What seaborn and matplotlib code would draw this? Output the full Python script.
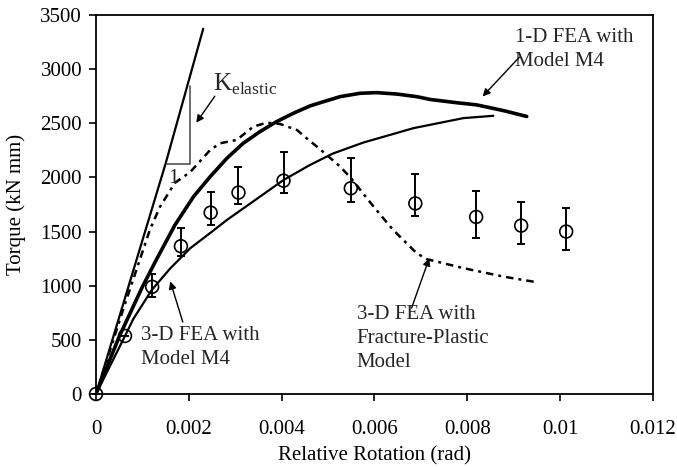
import matplotlib
matplotlib.use("Agg")
import matplotlib.pyplot as plt
import seaborn as sns
import pandas as pd

# ---- data ----
# Experimental data (circles with error bars)
exp_x = [0.0, 0.000625, 0.00121, 0.00183, 0.00247, 0.00307, 0.00404, 0.00549, 0.00688, 0.00819, 0.00916, 0.01013]
exp_y = [0, 536, 990, 1365, 1675, 1860, 1970, 1900, 1760, 1635, 1555, 1500]
exp_lo = [0, 0, 90, 95, 110, 110, 110, 125, 115, 190, 170, 170]
exp_hi = [0, 0, 120, 165, 190, 240, 265, 275, 270, 240, 215, 220]

# Elastic stiffness line
kel_x = [0.0, 0.0015, 0.00231]
kel_y = [0, 2128, 3373]

# 1-D FEA with Model M4 (thick solid)
fea1_x = [0.0, 0.0005, 0.001, 0.0013, 0.0017, 0.0021, 0.00246, 0.00282, 0.00317, 0.00353,
          0.00389, 0.00425, 0.00461, 0.00483, 0.00526, 0.00569, 0.00605, 0.00648, 0.00691,
          0.0072, 0.00777, 0.0082, 0.00842, 0.0088, 0.00928]
fea1_y = [0, 530, 990, 1240, 1560, 1822, 2007, 2177, 2315, 2422,
          2515, 2592, 2660, 2690, 2746, 2777, 2783, 2770, 2746,
          2720, 2690, 2670, 2650, 2615, 2563]

# 3-D FEA with Model M4 (thin solid)
fea3_x = [0.0, 0.000625, 0.0008, 0.0012, 0.0016, 0.00203, 0.0025, 0.00282, 0.00404, 0.00461,
          0.0051, 0.00576, 0.00684, 0.00792, 0.00856]
fea3_y = [0, 536, 690, 960, 1160, 1346, 1500, 1607, 1976, 2115,
          2220, 2322, 2455, 2548, 2569]

# 3-D FEA with Fracture-Plastic Model (dashed)
frac_x = [0.0, 0.0006, 0.00116, 0.00138, 0.0017, 0.00203, 0.00246, 0.00267, 0.00303, 0.00339,
          0.00368, 0.00397, 0.00433, 0.00454, 0.0048, 0.00526, 0.0055, 0.00598, 0.0064, 0.00691,
          0.00713, 0.00792, 0.00878, 0.0095]
frac_y = [0, 800, 1516, 1730, 1950, 2050, 2253, 2315, 2346, 2469,
          2506, 2493, 2438, 2361, 2270, 2100, 1990, 1731, 1516, 1300,
          1245, 1162, 1084, 1032]

x_ticks = [0, 0.002, 0.004, 0.006, 0.008, 0.010, 0.012]
x_ticklabels = ["0", "0.002", "0.004", "0.006", "0.008", "0.01", "0.012"]
y_ticks = [0, 500, 1000, 1500, 2000, 2500, 3000, 3500]

# ---- style ----
sns.set_theme(style="ticks")
plt.rcParams['font.family'] = ['Liberation Serif', 'DejaVu Serif']
plt.rcParams['mathtext.fontset'] = 'custom'
plt.rcParams['mathtext.rm'] = 'Liberation Serif'
FS = 15

fig = plt.figure(figsize=(6.77, 4.67), dpi=100)
ax = fig.add_axes([0.1418, 0.1563, 0.8227, 0.8116])

sns.lineplot(data=pd.DataFrame({"x": kel_x, "y": kel_y}), x="x", y="y", ax=ax,
             color="black", lw=1.6, sort=False, estimator=None)
sns.lineplot(data=pd.DataFrame({"x": fea1_x, "y": fea1_y}), x="x", y="y", ax=ax,
             color="black", lw=2.6, sort=False, estimator=None)
sns.lineplot(data=pd.DataFrame({"x": fea3_x, "y": fea3_y}), x="x", y="y", ax=ax,
             color="black", lw=1.6, sort=False, estimator=None)
sns.lineplot(data=pd.DataFrame({"x": frac_x, "y": frac_y}), x="x", y="y", ax=ax,
             color="black", lw=1.8, sort=False, estimator=None)
ax.lines[-1].set_linestyle((0, (3, 2, 1.2, 2)))

# experimental points
ax.errorbar(exp_x, exp_y, yerr=[exp_lo, exp_hi], fmt="none", ecolor="black",
            elinewidth=1.4, capsize=3, capthick=1.4, clip_on=False, zorder=4)
sns.scatterplot(x=exp_x, y=exp_y, ax=ax, marker="o", s=85, facecolor="none",
                edgecolor="black", linewidth=1.2, zorder=5, clip_on=False)

# stiffness triangle
ax.plot([0.0015, 0.00203, 0.00203], [2128, 2128, 2847], color="#444444", lw=1.1)
ax.text(0.00166, 1990, "1", fontsize=FS, ha="center", va="center")

# annotations
ax.text(0.00252, 2855, r"K$_{\mathrm{elastic}}$", fontsize=FS + 3, ha="left", va="center")
arrow = dict(arrowstyle="-|>", color="black", lw=1.0, mutation_scale=11, shrinkA=0, shrinkB=0)
ax.annotate("", xy=(0.00216, 2505), xytext=(0.00256, 2750), arrowprops=arrow)

ax.text(0.00903, 3180, "1-D FEA with\nModel M4", fontsize=FS, ha="left", va="center",
        linespacing=1.35)
ax.annotate("", xy=(0.00833, 2748), xytext=(0.00912, 3110), arrowprops=arrow)

ax.text(0.00098, 432, "3-D FEA with\nModel M4", fontsize=FS, ha="left", va="center",
        linespacing=1.35)
ax.annotate("", xy=(0.0016, 1040), xytext=(0.00187, 665), arrowprops=arrow)

ax.text(0.00562, 510, "3-D FEA with\nFracture-Plastic\nModel", fontsize=FS, ha="left",
        va="center", linespacing=1.35)
ax.annotate("", xy=(0.00718, 1254), xytext=(0.0068, 795), arrowprops=arrow)

# axes
ax.set_xlim(0, 0.012)
ax.set_ylim(0, 3500)
ax.set_xticks(x_ticks)
ax.set_xticklabels(x_ticklabels)
ax.set_yticks(y_ticks)
ax.tick_params(axis="both", labelsize=FS, direction="out", length=5, width=1.2,
               color="black", labelcolor="black")
ax.tick_params(axis="x", pad=14)
ax.tick_params(axis="y", pad=5)
for s in ax.spines.values():
    s.set_visible(True)
    s.set_color("black")
    s.set_linewidth(1.3)
ax.set_xlabel("Relative Rotation (rad)", fontsize=FS, color="black", labelpad=5)
ax.set_ylabel("Torque (kN mm)", fontsize=FS, color="black", labelpad=10)
ax.set_facecolor("white")

fig.savefig("out.png", dpi=100, facecolor="white")
